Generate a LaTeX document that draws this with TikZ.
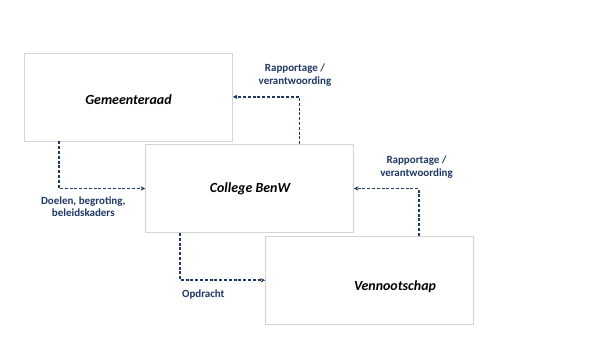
\documentclass[tikz,border=0pt]{standalone}
\usepackage{fontspec}
\setmainfont{Carlito}
\usetikzlibrary{arrows.meta}
\definecolor{navy}{HTML}{1F3864}
\definecolor{boxgray}{HTML}{D4D4D4}
\tikzset{
  box/.style={draw=boxgray, line width=0.8bp, fill=white, minimum width=208bp, minimum height=88bp, inner sep=0pt},
  boxtext/.style={font=\fontsize{14}{16}\selectfont\bfseries\itshape, text=black},
  flow/.style={draw=navy, line width=1.6bp, dash pattern=on 3bp off 1.8bp, -{Stealth[length=4.5bp,width=4.5bp]}},
  lbl/.style={font=\fontsize{11}{13}\selectfont\bfseries, text=navy, align=center}
}
\begin{document}
\begin{tikzpicture}[x=1bp,y=-1bp]
\useasboundingbox[fill=white] (0,0) rectangle (613,348);
\node[box] (gr) at (128.5,96.9) {};
\node[boxtext] (grt) at (128.5,100) {Gemeenteraad};
\node[box] (cb) at (249.5,188.5) {};
\node[boxtext] (cbt) at (250,188.5) {College BenW};
\node[box] (vs) at (369.5,280.2) {};
\node[boxtext] (vst) at (395,286.7) {Vennootschap};
\draw[flow] ([xshift=35bp]gr.south west) |- (cb.west);
\draw[flow] ([xshift=-54.3bp]cb.north east) |- (gr.east);
\draw[flow] ([xshift=-55bp]vs.north east) |- (cb.east);
\draw[flow] ([xshift=35bp]cb.south west) |- (vs.west);
\node[lbl] (l1) at (83.3,206.7) {Doelen, begroting,\\beleidskaders};
\node[lbl] (l2) at (295,75) {Rapportage /\\verantwoording};
\node[lbl] (l3) at (416.5,167.5) {Rapportage /\\verantwoording};
\node[lbl] (l4) at (203.3,295) {Opdracht};
\end{tikzpicture}
\end{document}
